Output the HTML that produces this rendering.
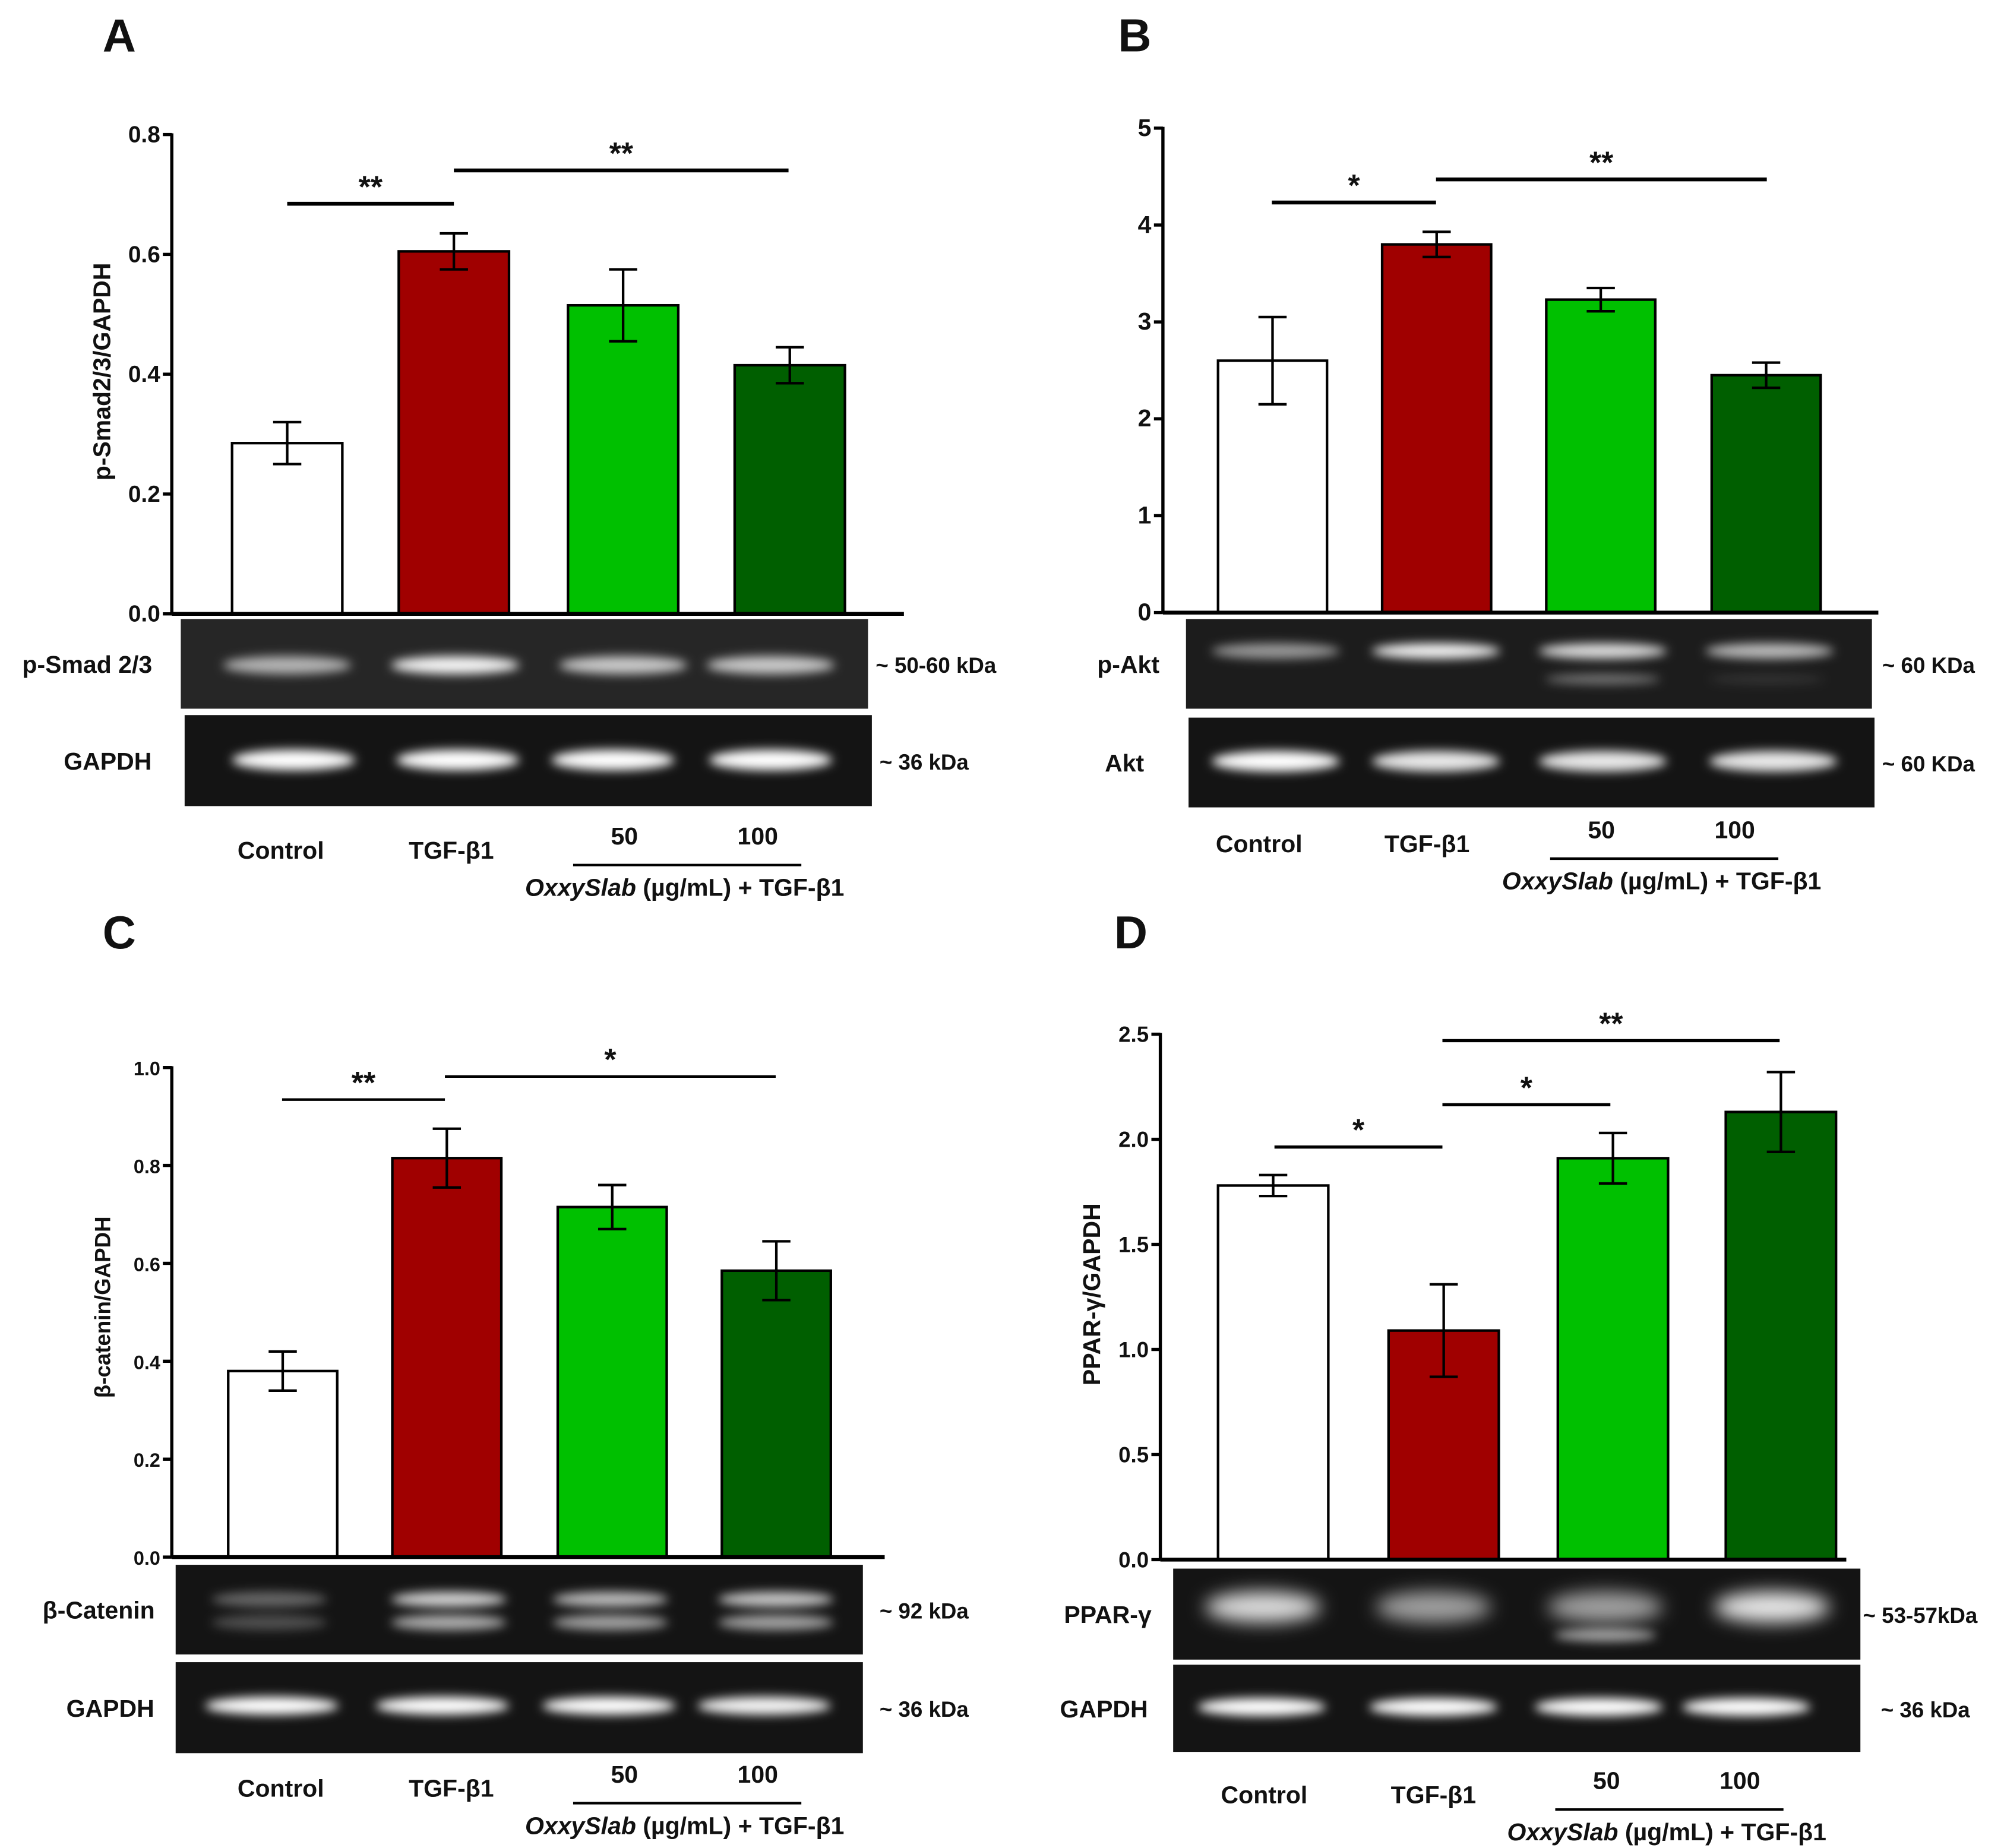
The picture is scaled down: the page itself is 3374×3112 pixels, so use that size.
<!DOCTYPE html>
<html><head><meta charset="utf-8">
<style>
html,body{margin:0;padding:0;background:#fff;}
svg{display:block;}
text{font-family:"Liberation Sans",sans-serif;font-weight:bold;fill:#111;}
</style></head>
<body>
<svg id="fig" width="3374" height="3112" viewBox="0 0 1563 1442" preserveAspectRatio="none" xmlns="http://www.w3.org/2000/svg">
<defs>
<filter id="blur" x="-30%" y="-100%" width="160%" height="300%"><feGaussianBlur stdDeviation="4"/></filter>
<filter id="blur2" x="-30%" y="-100%" width="160%" height="300%"><feGaussianBlur stdDeviation="7"/></filter>
</defs>
</svg>
<script>
// ---- data ----
const categories = ["Control","TGF-β1","50","100"];
const barColors = ["#ffffff","#a00000","#00c000","#005f00"];
const aValues = [0.285, 0.605, 0.515, 0.415];
const aErrors = [0.035, 0.03, 0.06, 0.03];
const aTicks = [0.0, 0.2, 0.4, 0.6, 0.8];
const aTickLabels = ["0.0","0.2","0.4","0.6","0.8"];
const bValues = [2.6, 3.8, 3.23, 2.45];
const bErrors = [0.45, 0.13, 0.12, 0.13];
const bTicks = [0,1,2,3,4,5];
const bTickLabels = ["0","1","2","3","4","5"];
const cValues = [0.38, 0.815, 0.715, 0.585];
const cErrors = [0.04, 0.06, 0.045, 0.06];
const cTicks = [0.0,0.2,0.4,0.6,0.8,1.0];
const cTickLabels = ["0.0","0.2","0.4","0.6","0.8","1.0"];
const dValues = [1.78, 1.09, 1.91, 2.13];
const dErrors = [0.05, 0.22, 0.12, 0.19];
const dTicks = [0.0,0.5,1.0,1.5,2.0,2.5];
const dTickLabels = ["0.0","0.5","1.0","1.5","2.0","2.5"];

const NS = "http://www.w3.org/2000/svg";
const svg = document.getElementById("fig");
function mk(tag, attrs, parent){
  const e = document.createElementNS(NS, tag);
  for (const k in attrs) e.setAttribute(k, attrs[k]);
  (parent||svg).appendChild(e);
  return e;
}
function txt(s, x, y, size, anchor, parent, extra){
  const t = mk("text", Object.assign({x:x, y:y, "font-size":size, "text-anchor":anchor||"middle"}, extra||{}), parent);
  t.textContent = s;
  return t;
}

function panel(p){
  const g = mk("g", {});
  
  
  const yS = v => p.y0 - (v - p.tmin) / (p.tmax - p.tmin) * (p.y0 - p.y1);
  const L = txt(p.letter, p.lx, p.ly, 36, "middle", g);
  
  
  const ax = mk("line", {x1:p.ax, x2:p.ax, y1:p.y1-1, y2:p.y0, stroke:"#000", "stroke-width":2.5}, g);
  
  
  p.ticks.forEach((tv,i)=>{
    const y = yS(tv);
    mk("line",{x1:p.ax-7,x2:p.ax,y1:y,y2:y,stroke:"#000","stroke-width":2.5},g);
    const tl = txt(p.tickLabels[i], p.ax-9, y+6, p.tickSize, "end", g);
    
    
  });
  const yt = txt(p.ylabel, 0, 0, p.ylabelSize, "middle", g, {transform:`translate(${p.ylx},${p.yly}) rotate(-90)`});
  
  
  p.values.forEach((v,i)=>{
    const x = p.barX[i], w = p.barW;
    const top = yS(v);
    const r = mk("rect",{x:x,y:top,width:w,height:p.y0-top,fill:barColors[i],stroke:"#000","stroke-width":2},g);
    
    
    const cx = x + w/2, e1 = yS(v+p.errors[i]), e2 = yS(v-p.errors[i]);
    const eb = mk("path",{d:`M${cx},${e1}V${e2}M${cx-11},${e1}H${cx+11}M${cx-11},${e2}H${cx+11}`,stroke:"#000","stroke-width":2,fill:"none"},g);
    
    
  });
  const xa = mk("line",{x1:p.ax,x2:p.axEnd,y1:p.y0,y2:p.y0,stroke:"#000","stroke-width":3},g);
  
  
  p.sig.forEach(s=>{
    const l = mk("line",{x1:s[0],x2:s[1],y1:s[2],y2:s[2],stroke:"#000","stroke-width":p.sigW},g);
    
    
    const st = txt(s[3], (s[0]+s[1])/2, s[2]-5, 24, "middle", g);
    
    
  });
  p.blots.forEach(b=>{
    const bg = mk("g",{},g);
    
    
    mk("rect",{x:b.x,y:b.y,width:b.w,height:b.h,fill:b.bg||"#141414"},bg);
    b.bands.forEach(bd=>{
      mk("ellipse",{cx:bd[0],cy:bd[1],rx:bd[2],ry:bd[3],fill:"#fff","fill-opacity":bd[4],filter:"url(#"+(bd[5]||"blur")+")"},bg);
    });
    txt(b.label, b.labX, b.y+b.h/2+7, 19, "middle", bg);
    txt(b.kda, b.kx, b.y+b.h/2+7, 17, "start", bg);
  });
  const xl = mk("g",{},g);
  
  
  txt(categories[0], p.xl[0], p.xly, 19, "middle", xl);
  txt(categories[1], p.xl[1], p.xly, 19, "middle", xl);
  txt(categories[2], p.xl[2], p.xly-11, 19, "middle", xl);
  txt(categories[3], p.xl[3], p.xly-11, 19, "middle", xl);
  mk("line",{x1:p.xl[2]-40,x2:p.xl[3]+34,y1:p.xly+5,y2:p.xly+5,stroke:"#000","stroke-width":2},xl);
  const t = mk("text",{x:p.xl[2]+47,y:p.xly+29,"font-size":19,"text-anchor":"middle"},xl);
  const s1 = document.createElementNS(NS,"tspan"); s1.setAttribute("font-style","italic"); s1.textContent="OxxySlab"; t.appendChild(s1);
  const s2 = document.createElementNS(NS,"tspan"); s2.textContent=" (µg/mL)  + TGF-β1"; t.appendChild(s2);
}

function lanes(xs, y, rx, ry, ops, f){ return xs.map((x,i)=>[x,y,rx,ry,ops[i],f]); }

panel({name:"panel-a",letter:"A",lx:93,ly:40,ax:134,y0:479,y1:105,tmin:0,tmax:0.8,ticks:aTicks,tickLabels:aTickLabels,tickSize:18,
  ylabel:"p-Smad2/3/GAPDH",ylabelSize:19,ylx:86,yly:290,values:aValues,errors:aErrors,barX:[181,311,443,573],barW:86,axEnd:705,
  sig:[[224,354,159,"**"],[354,615,133,"**"]],sigW:3,
  blots:[{x:141,y:483,w:536,h:70,label:"p-Smad 2/3",labX:68,kda:"~ 50-60 kDa",kx:683,bg:"#262626",
     bands:lanes([224,355,486,601],519,50,7,[0.65,0.95,0.75,0.75])},
    {x:144,y:558,w:536,h:71,label:"GAPDH",labX:84,kda:"~ 36 kDa",kx:686,
     bands:lanes([229,357,478,601],593,48,8,[1,1,1,1])}],
  xl:[219,352,487,591],xly:670});

panel({name:"panel-b",letter:"B",lx:885,ly:40,ax:907,y0:478,y1:100,tmin:0,tmax:5,ticks:bTicks,tickLabels:bTickLabels,tickSize:19,
  ylabel:"",ylabelSize:19,ylx:860,yly:290,values:bValues,errors:bErrors,barX:[950,1078,1206,1335],barW:85,axEnd:1465,
  sig:[[992,1120,158,"*"],[1120,1378,140,"**"]],sigW:3,
  blots:[{x:925,y:483,w:535,h:70,label:"p-Akt",labX:880,kda:"~ 60 KDa",kx:1468,bg:"#1c1c1c",
     bands:lanes([995,1120,1250,1380],508,50,6,[0.55,0.95,0.85,0.7]).concat(lanes([1250,1378],530,45,4,[0.4,0.1]))},
    {x:927,y:560,w:535,h:70,label:"Akt",labX:877,kda:"~ 60 KDa",kx:1468,
     bands:lanes([995,1120,1250,1383],594,50,8,[1,0.9,0.9,0.9])}],
  xl:[982,1113,1249,1353],xly:665});

panel({name:"panel-c",letter:"C",lx:93,ly:740,ax:134,y0:1215,y1:833,tmin:0,tmax:1.0,ticks:cTicks,tickLabels:cTickLabels,tickSize:15,
  ylabel:"β-catenin/GAPDH",ylabelSize:17,ylx:86,yly:1020,values:cValues,errors:cErrors,barX:[178,306,435,563],barW:85,axEnd:690,
  sig:[[220,347,858,"**"],[347,605,840,"*"]],sigW:2,
  blots:[{x:137,y:1221,w:536,h:70,label:"β-Catenin",labX:77,kda:"~ 92 kDa",kx:686,
     bands:lanes([210,350,476,605],1248,45,6,[0.35,0.8,0.7,0.75]).concat(lanes([210,350,476,605],1266,45,6,[0.25,0.65,0.6,0.6]))},
    {x:137,y:1297,w:536,h:71,label:"GAPDH",labX:86,kda:"~ 36 kDa",kx:686,
     bands:lanes([212,345,475,596],1331,52,7,[1,1,1,0.95])}],
  xl:[219,352,487,591],xly:1402});

panel({name:"panel-d",letter:"D",lx:882,ly:740,ax:905,y0:1217,y1:807,tmin:0,tmax:2.5,ticks:dTicks,tickLabels:dTickLabels,tickSize:17,
  ylabel:"PPAR-γ/GAPDH",ylabelSize:19,ylx:858,yly:1010,values:dValues,errors:dErrors,barX:[950,1083,1215,1346],barW:86,axEnd:1440,
  sig:[[994,1125,895,"*"],[1125,1256,862,"*"],[1125,1388,812,"**"]],sigW:2.5,
  blots:[{x:915,y:1224,w:536,h:71,label:"PPAR-γ",labX:864,kda:"~ 53-57kDa",kx:1453,
     bands:lanes([985,1118,1252,1382],1254,45,12,[0.85,0.6,0.6,0.9],"blur2").concat(lanes([1252],1276,40,5,[0.6]))},
    {x:915,y:1299,w:536,h:68,label:"GAPDH",labX:861,kda:"~ 36 kDa",kx:1467,
     bands:lanes([984,1118,1247,1362],1332,50,7,[1,1,1,1])}],
  xl:[986,1118,1253,1357],xly:1407});
</script>
</body></html>
